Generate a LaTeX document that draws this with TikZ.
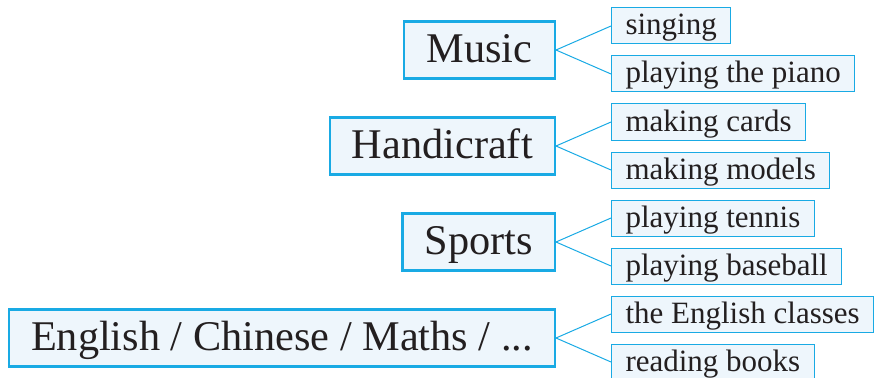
\documentclass[tikz,border=0pt]{standalone}
\usepackage{fontspec}
\setmainfont{Liberation Serif}
\usepackage{xcolor}
\usepackage{tikz}
\usetikzlibrary{positioning}
\definecolor{boxline}{RGB}{25,170,228}
\definecolor{boxfill}{RGB}{238,246,252}
\definecolor{ink}{RGB}{35,31,32}

\begin{document}
\begin{tikzpicture}[x=1pt,y=-1pt,draw=boxline]
    \tikzstyle{box}=[draw=boxline,fill=boxfill,inner ysep=0pt,text=ink]
    \tikzstyle{topic}=[box,line width=2.4pt,minimum height=57pt,minimum width=151pt,inner xsep=22pt,anchor=east,font=\fontsize{42.3}{48}\selectfont,text height=29.5pt,text depth=4.3pt]
    \tikzstyle{activity}=[box,line width=1pt,minimum height=36pt,inner xsep=14pt,anchor=west,font=\fontsize{31}{36}\selectfont,text height=21.7pt,text depth=3.7pt]
    \tikzstyle{link}=[draw=boxline,line width=1pt]

    \useasboundingbox (0,0) rectangle (874,377);

    % Draw the topic nodes
    \foreach \name / \y / \txt in {1/50/Music, 2/146/Handicraft, 3/242/Sports, 4/338/{English / Chinese / Maths / ...}}
        \node[topic] (T-\name) at (556,\y) {\txt};

    % Draw the activity nodes
    \foreach \name / \y / \txt in {1/26/singing, 2/74/playing the piano,
                                   3/122/making cards, 4/170/making models,
                                   5/218/playing tennis, 6/266/playing baseball,
                                   7/314/the English classes, 8/362/reading books}
        \node[activity] (A-\name) at (611,\y) {\txt};

    % Connect every topic with its two activities
    \foreach \source / \up / \down in {1/1/2, 2/3/4, 3/5/6, 4/7/8}
        \path (T-\source.east) edge[link] (A-\up.west)
                               edge[link] (A-\down.west);
\end{tikzpicture}
\end{document}
